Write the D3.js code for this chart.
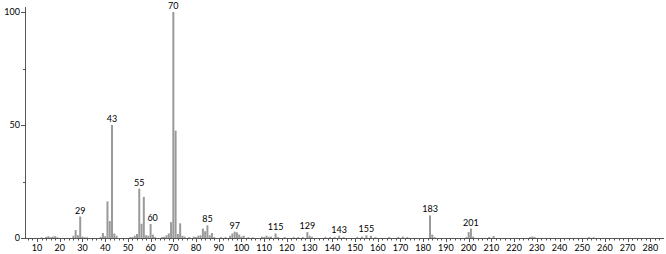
<!DOCTYPE html>
<html>
  <head>
    <script src="https://d3js.org/d3.v7.min.js"></script>
  </head>
  <body>
    <svg id="viz" width="666" height="254"></svg>
  </body>
  <script>
    // m/z values and relative intensities
    const masses = [
      12, 14, 15, 16, 17, 18, 19, 26, 27, 28, 29, 30, 31, 32, 38, 39, 40, 41, 42, 43, 44, 45,
      51, 52, 53, 54, 55, 56, 57, 58, 59, 60, 61, 62, 65, 66, 67, 68, 69, 70, 71, 72, 73, 74, 75,
      77, 79, 80, 81, 82, 83, 84, 85, 86, 87, 88, 91, 93, 95, 96, 97, 98, 99, 100, 101, 103,
      105, 109, 110, 111, 112, 113, 115, 116, 119, 123, 125, 127, 129, 130, 131, 137, 139,
      141, 143, 145, 151, 153, 155, 157, 159, 165, 169, 171, 173, 183, 184, 185, 199, 200, 201,
      202, 209, 211, 227, 228, 229, 253, 255
    ];
    const intensities = [
      0.3, 0.5, 0.8, 0.4, 0.6, 0.8, 0.3, 1.0, 3.5, 1.2, 9.5, 0.6, 0.3, 0.3, 0.5, 2.2, 0.8, 16.2, 7.5, 50, 2.0, 1.0,
      0.4, 0.4, 1.0, 1.8, 21.8, 6.3, 18.2, 1.2, 1.0, 6.2, 1.5, 0.4, 0.4, 0.5, 1.2, 2.0, 7.0, 100, 47.5, 1.8, 6.5, 1.0, 0.6,
      0.4, 0.6, 0.4, 1.0, 1.2, 4.2, 3.0, 5.6, 1.2, 2.2, 0.4, 0.4, 0.4, 1.0, 2.0, 2.8, 2.5, 1.5, 0.6, 1.0, 0.4,
      0.3, 0.6, 0.4, 1.0, 0.5, 0.6, 2.0, 0.5, 0.4, 0.4, 0.4, 0.4, 2.6, 1.0, 0.5, 0.4, 0.4,
      0.4, 1.0, 0.4, 0.4, 0.6, 1.2, 1.0, 0.4, 0.4, 0.4, 0.6, 0.4, 10, 1.5, 0.4, 0.4, 2.6, 4.2,
      0.6, 0.4, 0.9, 0.4, 0.6, 0.5, 0.4, 0.3
    ];
    const labelled = [29, 43, 55, 60, 70, 85, 97, 115, 129, 143, 155, 183, 201];
    const xTicks = d3.range(10, 281, 10);
    const yTicks = [0, 50, 100];

    function draw() {
      const svg = d3.select("svg#viz");
      const data = masses.map((m, i) => ({ m: m, v: intensities[i] }));

      const x = d3.scaleLinear().domain([4.7, 286]).range([25, 664]);
      const y = d3.scaleLinear().domain([0, 100]).range([238, 12]);

      const font = "Lato, 'DejaVu Sans', sans-serif";

      svg
        .selectAll("line.peak")
        .data(data)
        .join("line")
        .attr("class", "peak")
        .attr("x1", (d) => x(d.m))
        .attr("x2", (d) => x(d.m))
        .attr("y1", y(0))
        .attr("y2", (d) => y(d.v))
        .attr("stroke", "#9a9a9a")
        .attr("stroke-width", 2);

      // left axis
      svg
        .append("line")
        .attr("x1", 25.5)
        .attr("x2", 25.5)
        .attr("y1", 7)
        .attr("y2", y(0))
        .attr("stroke", "#555");
      svg
        .selectAll("line.ytick")
        .data([0, 25, 50, 75, 100])
        .join("line")
        .attr("class", "ytick")
        .attr("x1", (d) => (d % 50 === 0 ? 21 : 23))
        .attr("x2", 25)
        .attr("y1", (d) => Math.round(y(d)) + 0.5)
        .attr("y2", (d) => Math.round(y(d)) + 0.5)
        .attr("stroke", "#555");
      svg
        .selectAll("text.ylab")
        .data(yTicks)
        .join("text")
        .attr("class", "ylab")
        .attr("x", 20)
        .attr("y", (d) => y(d) + 3)
        .attr("text-anchor", "end")
        .attr("font-family", font)
        .attr("font-size", 9)
        .text((d) => d);

      // bottom axis
      svg
        .append("line")
        .attr("x1", 25)
        .attr("x2", 664)
        .attr("y1", y(0) + 0.5)
        .attr("y2", y(0) + 0.5)
        .attr("stroke", "#555");
      svg
        .selectAll("line.xminor")
        .data(d3.range(6, 285, 2))
        .join("line")
        .attr("class", "xminor")
        .attr("x1", (d) => Math.round(x(d)) + 0.5)
        .attr("x2", (d) => Math.round(x(d)) + 0.5)
        .attr("y1", y(0))
        .attr("y2", (d) => y(0) + (d % 10 === 0 ? 4 : 2.5))
        .attr("stroke", "#555");
      svg
        .selectAll("text.xlab")
        .data(xTicks)
        .join("text")
        .attr("class", "xlab")
        .attr("x", (d) => x(d))
        .attr("y", 251)
        .attr("text-anchor", "middle")
        .attr("font-family", font)
        .attr("font-size", 9)
        .text((d) => d);

      // peak labels
      svg
        .selectAll("text.peaklab")
        .data(data.filter((d) => labelled.includes(d.m)))
        .join("text")
        .attr("class", "peaklab")
        .attr("x", (d) => x(d.m) + (d.m === 60 ? 2 : 0))
        .attr("y", (d) => y(d.v) - 3)
        .attr("text-anchor", "middle")
        .attr("font-family", font)
        .attr("font-size", 9)
        .text((d) => d.m);
    }

    draw();
  </script>
  <style>
    body {
      margin: 0px;
      background: #fff;
    }
  </style>
</html>
